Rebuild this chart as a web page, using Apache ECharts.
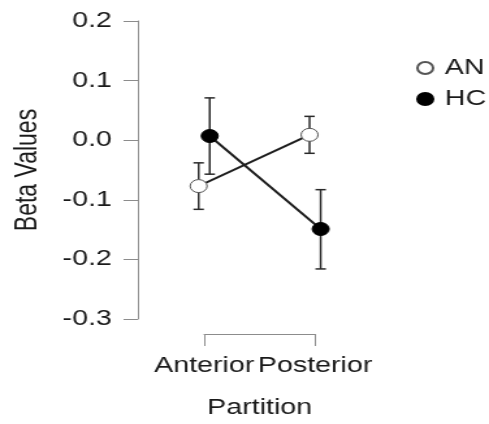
<!DOCTYPE html>
<html>
<head>
<meta charset="utf-8">
<script src="https://cdn.jsdelivr.net/npm/echarts@6/dist/echarts.min.js"></script>
<style>
html,body{margin:0;padding:0;background:#fff;overflow:hidden;}
#chart{width:376px;height:424px;transform:scaleX(1.3005);transform-origin:0 0;}
</style>
</head>
<body>
<div id="chart"></div>
<script>
// Data
const categories = ['Anterior', 'Posterior'];
const groups = ['AN', 'HC'];
const anMean = [-0.077, 0.009];
const anLower = [-0.116, -0.022];
const anUpper = [-0.038, 0.040];
const hcMean = [0.007, -0.149];
const hcLower = [-0.057, -0.216];
const hcUpper = [0.071, -0.083];
const yTickLabels = ['-0.3', '-0.2', '-0.1', '0.0', '0.1', '0.2'];
const dodge = [-0.05, 0.05];

const FONT = 'Liberation Sans, Arial, Helvetica, sans-serif';
const TXT = '#1a1a1a';
const AXIS = '#8c8c8c';

function pts(mean, d) { return mean.map((v, i) => [i + d, v]); }
function errs(lo, hi, d) { return lo.map((v, i) => [i + d, v, hi[i]]); }

function errRender(params, api) {
  const x = api.value(0);
  const lo = api.coord([x, api.value(1)]);
  const hi = api.coord([x, api.value(2)]);
  const w = 4;
  const style = { stroke: '#2a2a2a', lineWidth: 1.5 };
  return {
    type: 'group',
    children: [
      { type: 'line', shape: { x1: lo[0], y1: lo[1], x2: hi[0], y2: hi[1] }, style },
      { type: 'line', shape: { x1: lo[0] - w, y1: lo[1], x2: lo[0] + w, y2: lo[1] }, style },
      { type: 'line', shape: { x1: hi[0] - w, y1: hi[1], x2: hi[0] + w, y2: hi[1] }, style }
    ]
  };
}

const chart = echarts.init(document.getElementById('chart'), null, { renderer: 'canvas' });
chart.setOption({
  animation: false,
  backgroundColor: '#fff',
  textStyle: { fontFamily: FONT },
  grid: { left: 157, right: 133.7, top: 21, bottom: 102 },
  legend: {
    orient: 'vertical',
    left: 315, top: 52,
    itemWidth: 12, itemHeight: 12, itemGap: 9,
    icon: 'circle',
    data: groups,
    textStyle: { fontSize: 22, color: TXT, fontFamily: FONT, padding: [0, 0, 0, 4] }
  },
  xAxis: {
    type: 'value', min: 0, max: 1, interval: 1,
    offset: 15,
    name: 'Partition', nameLocation: 'middle', nameGap: 63,
    nameTextStyle: { fontSize: 22, color: TXT, fontFamily: FONT },
    axisLine: { show: true, onZero: false, lineStyle: { color: AXIS, width: 1 } },
    axisTick: { show: true, length: 12, lineStyle: { color: AXIS, width: 1 } },
    axisLabel: { margin: 21, fontSize: 22, color: TXT, fontFamily: FONT,
      formatter: v => categories[Math.round(v)] },
    splitLine: { show: false }
  },
  yAxis: {
    type: 'value', min: -0.3, max: 0.2, interval: 0.1,
    offset: 51,
    name: 'Beta Values', nameLocation: 'middle', nameGap: 73, nameRotate: 90,
    nameTextStyle: { fontSize: 23, color: TXT, fontFamily: FONT },
    axisLine: { show: true, onZero: false, lineStyle: { color: AXIS, width: 1 } },
    axisTick: { show: true, length: 11, lineStyle: { color: AXIS, width: 1 } },
    axisLabel: { margin: 20, fontSize: 22, color: TXT, fontFamily: FONT,
      formatter: v => yTickLabels[Math.round((v + 0.3) / 0.1)] },
    splitLine: { show: false }
  },
  series: [
    { name: 'AN-err', type: 'custom', renderItem: errRender, data: errs(anLower, anUpper, dodge[0]),
      clip: false, z: 1, silent: true },
    { name: 'HC-err', type: 'custom', renderItem: errRender, data: errs(hcLower, hcUpper, dodge[1]),
      clip: false, z: 1, silent: true },
    { name: 'HC', type: 'line', data: pts(hcMean, dodge[1]), clip: false, z: 3,
      symbol: 'circle', symbolSize: 13, showSymbol: true,
      lineStyle: { color: '#1e1e1e', width: 2 },
      itemStyle: { color: '#000', borderColor: '#000', borderWidth: 1 } },
    { name: 'AN', type: 'line', data: pts(anMean, dodge[0]), clip: false, z: 3,
      symbol: 'circle', symbolSize: 13, showSymbol: true,
      lineStyle: { color: '#1e1e1e', width: 2 },
      itemStyle: { color: '#fff', borderColor: '#555', borderWidth: 1 } }
  ]
});
</script>
</body>
</html>
